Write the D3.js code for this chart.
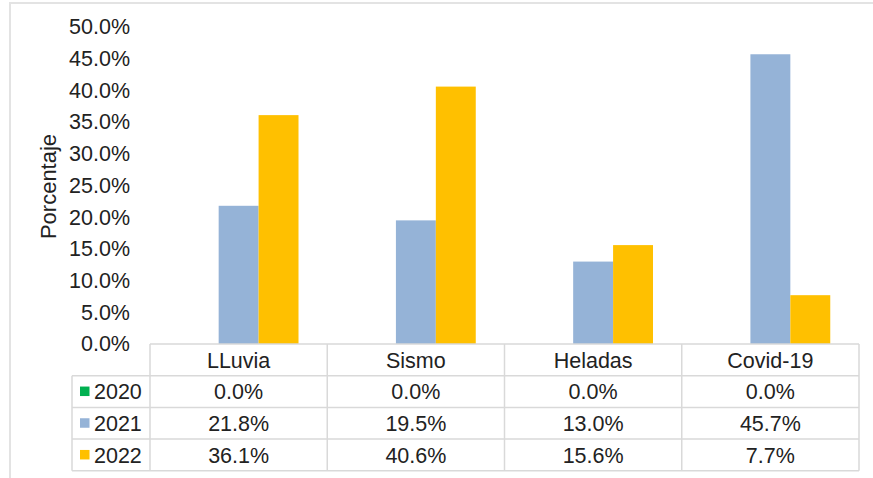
<!DOCTYPE html>
<html>
<head>
<meta charset="utf-8">
<script src="https://cdn.jsdelivr.net/npm/d3@7"></script>
<style>
  body { margin: 0; background: #fff; }
  svg { display: block; font-family: "Liberation Sans", Arial, sans-serif; }
</style>
</head>
<body>
<div id="grafico"></div>
<script>
// datos
const categorias = ["LLuvia", "Sismo", "Heladas", "Covid-19"];
const anios = ["2020", "2021", "2022"];
const valores2020 = [0.0, 0.0, 0.0, 0.0];
const valores2021 = [21.8, 19.5, 13.0, 45.7];
const valores2022 = [36.1, 40.6, 15.6, 7.7];
const ticksY = [0, 5, 10, 15, 20, 25, 30, 35, 40, 45, 50];

const series = [valores2020, valores2021, valores2022];
const colores = ["#00B050", "#95B3D7", "#FFC000"];

const width = 873, height = 478;
const plotLeft = 150, plotRight = 859;
const plotTop = 27, plotBottom = 344;
const filaAlto = 31.7;
const leyendaLeft = 72;
const fs = 21.5;

const svg = d3.create("svg")
  .attr("width", width)
  .attr("height", height);

// marco exterior
svg.append("path")
  .attr("d", `M10,${height} L10,3 L${width},3`)
  .attr("fill", "none")
  .attr("stroke", "#e3e3e3")
  .attr("stroke-width", 2);

const x = d3.scaleBand()
  .domain(categorias)
  .range([plotLeft, plotRight]);

const xSub = d3.scaleBand()
  .domain(anios)
  .range([0, x.bandwidth()])
  .paddingInner(0)
  .paddingOuter(0.72);

const y = d3.scaleLinear()
  .domain([0, 50])
  .range([plotBottom, plotTop]);

// eje y
const ejeY = svg.append("g")
  .attr("transform", `translate(${plotLeft - 12},0)`)
  .call(d3.axisLeft(y).tickValues(ticksY).tickFormat(d => d.toFixed(1) + "%").tickSize(0).tickPadding(8));
ejeY.select(".domain").remove();
ejeY.selectAll("text")
  .attr("font-family", "Liberation Sans, Arial, sans-serif")
  .attr("font-size", fs)
  .attr("fill", "#222");

svg.append("text")
  .attr("transform", `translate(56,${(plotTop + plotBottom) / 2 + 1}) rotate(-90)`)
  .attr("text-anchor", "middle")
  .attr("font-size", 22)
  .attr("fill", "#222")
  .text("Porcentaje");

// barras
const grupos = svg.append("g")
  .selectAll("g")
  .data(categorias)
  .join("g")
  .attr("transform", d => `translate(${x(d)},0)`);

grupos.selectAll("rect")
  .data((d, i) => anios.map((a, j) => ({ anio: a, valor: series[j][i], color: colores[j] })))
  .join("rect")
  .attr("x", d => xSub(d.anio))
  .attr("width", xSub.bandwidth())
  .attr("y", d => y(d.valor))
  .attr("height", d => plotBottom - y(d.valor))
  .attr("fill", d => d.color);

// tabla de datos
const tabla = svg.append("g");
const lineaColor = "#d9d9d9";
const yFila = i => plotBottom + filaAlto * i;

// lineas horizontales
tabla.append("line")
  .attr("x1", plotLeft).attr("x2", plotRight)
  .attr("y1", yFila(0)).attr("y2", yFila(0));
for (let i = 1; i <= anios.length + 1; i++) {
  tabla.append("line")
    .attr("x1", leyendaLeft).attr("x2", plotRight)
    .attr("y1", yFila(i)).attr("y2", yFila(i));
}
// lineas verticales
categorias.forEach(c => {
  tabla.append("line")
    .attr("x1", x(c)).attr("x2", x(c))
    .attr("y1", yFila(0)).attr("y2", yFila(anios.length + 1));
});
tabla.append("line")
  .attr("x1", plotRight).attr("x2", plotRight)
  .attr("y1", yFila(0)).attr("y2", yFila(anios.length + 1));
tabla.append("line")
  .attr("x1", leyendaLeft).attr("x2", leyendaLeft)
  .attr("y1", yFila(1)).attr("y2", yFila(anios.length + 1));
tabla.selectAll("line")
  .attr("stroke", lineaColor)
  .attr("stroke-width", 1.5);

// encabezados
tabla.selectAll("text.cat")
  .data(categorias)
  .join("text")
  .attr("class", "cat")
  .attr("x", d => x(d) + x.bandwidth() / 2)
  .attr("y", yFila(0) + filaAlto / 2)
  .attr("dy", "0.36em")
  .attr("text-anchor", "middle")
  .attr("font-size", fs)
  .attr("fill", "#222")
  .text(d => d);

// filas
anios.forEach((a, j) => {
  const yc = yFila(j + 1) + filaAlto / 2;
  tabla.append("rect")
    .attr("x", leyendaLeft + 8)
    .attr("y", yc - 5)
    .attr("width", 9.5)
    .attr("height", 9.5)
    .attr("fill", colores[j]);
  tabla.append("text")
    .attr("x", leyendaLeft + 22)
    .attr("y", yc)
    .attr("dy", "0.36em")
    .attr("font-size", fs)
    .attr("fill", "#222")
    .text(a);
  tabla.selectAll(null)
    .data(categorias)
    .join("text")
    .attr("x", d => x(d) + x.bandwidth() / 2)
    .attr("y", yc)
    .attr("dy", "0.36em")
    .attr("text-anchor", "middle")
    .attr("font-size", fs)
    .attr("fill", "#222")
    .text((d, i) => series[j][i].toFixed(1) + "%");
});

document.getElementById("grafico").append(svg.node());
</script>
</body>
</html>
